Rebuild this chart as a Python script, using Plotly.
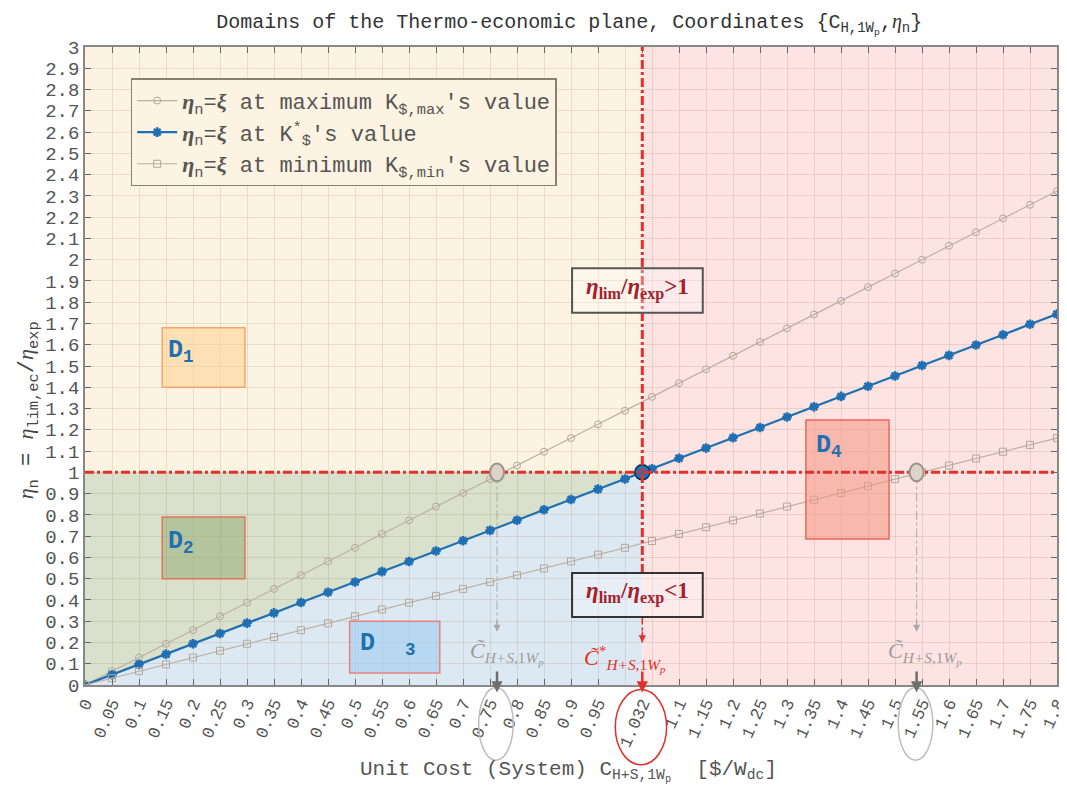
import plotly.graph_objects as go

# ---------------- data ----------------
x_cost = [0, 0.05, 0.1, 0.15, 0.2, 0.25, 0.3, 0.35, 0.4, 0.45, 0.5, 0.55, 0.6, 0.65,
          0.7, 0.75, 0.8, 0.85, 0.9, 0.95, 1.0, 1.05, 1.1, 1.15, 1.2, 1.25, 1.3, 1.35,
          1.4, 1.45, 1.5, 1.55, 1.6, 1.65, 1.7, 1.75, 1.8]
eta_max = [0, 0.065, 0.129, 0.194, 0.258, 0.323, 0.387, 0.452, 0.516, 0.581, 0.645,
           0.710, 0.774, 0.839, 0.903, 0.968, 1.032, 1.097, 1.161, 1.226, 1.290, 1.355,
           1.419, 1.484, 1.548, 1.613, 1.677, 1.742, 1.806, 1.871, 1.935, 2.000, 2.065,
           2.129, 2.194, 2.258, 2.323]
eta_opt = [0, 0.048, 0.097, 0.145, 0.194, 0.242, 0.291, 0.339, 0.388, 0.436, 0.484,
           0.533, 0.581, 0.630, 0.678, 0.727, 0.775, 0.824, 0.872, 0.921, 0.969, 1.017,
           1.066, 1.114, 1.163, 1.211, 1.260, 1.308, 1.357, 1.405, 1.453, 1.502, 1.550,
           1.599, 1.647, 1.696, 1.744]
eta_min = [0, 0.032, 0.065, 0.097, 0.129, 0.161, 0.194, 0.226, 0.258, 0.290, 0.323,
           0.355, 0.387, 0.419, 0.452, 0.484, 0.516, 0.548, 0.581, 0.613, 0.645, 0.677,
           0.710, 0.742, 0.774, 0.806, 0.839, 0.871, 0.903, 0.935, 0.968, 1.000, 1.032,
           1.065, 1.097, 1.129, 1.161]

c_star = 1.032          # optimal unit cost
c_max = 0.763           # crossing of max line with eta=1
c_min = 1.54            # crossing of min line with eta=1
eta_lim = 1.0

x_tickvals = [0, 0.05, 0.1, 0.15, 0.2, 0.25, 0.3, 0.35, 0.4, 0.45, 0.5, 0.55, 0.6, 0.65,
              0.7, 0.75, 0.8, 0.85, 0.9, 0.95, 1.032, 1.1, 1.15, 1.2, 1.25, 1.3, 1.35,
              1.4, 1.45, 1.5, 1.55, 1.6, 1.65, 1.7, 1.75, 1.8]
x_ticktext = ["0", "0.05", "0.1", "0.15", "0.2", "0.25", "0.3", "0.35", "0.4", "0.45",
              "0.5", "0.55", "0.6", "0.65", "0.7", "0.75", "0.8", "0.85", "0.9", "0.95",
              "1.032", "1.1", "1.15", "1.2", "1.25", "1.3", "1.35", "1.4", "1.45", "1.5",
              "1.55", "1.6", "1.65", "1.7", "1.75", "1.8"]
y_tickvals = [i / 10 for i in range(31)]
y_ticktext = ["0", "0.1", "0.2", "0.3", "0.4", "0.5", "0.6", "0.7", "0.8", "0.9", "1",
              "1.1", "1.2", "1.3", "1.4", "1.5", "1.6", "1.7", "1.8", "1.9", "2",
              "2.1", "2.2", "2.3", "2.4", "2.5", "2.6", "2.7", "2.8", "2.9", "3"]

# ---------------- styling ----------------
MONO = "Liberation Mono, Courier New, monospace"
SERIF = "Liberation Serif, Times New Roman, serif"
BLUE = "#1f6fb2"
RED = "#e3302b"
DARKRED = "#a3202e"
GRAYLINE = "#bdb1a6"
ETA = "<span style=\"font-family:'Liberation Serif';font-style:italic\">η</span>"
ETAB = "<span style=\"font-family:'Liberation Serif';font-style:italic;font-weight:bold\">η</span>"
XI = "<span style=\"font-family:'Liberation Serif';font-style:italic;font-weight:bold\">ξ</span>"

fig = go.Figure()

fig.add_trace(go.Scatter(
    x=x_cost, y=eta_max, mode="lines+markers",
    name=f"{ETAB}<sub>n</sub>={XI} at maximum K<sub>$,max</sub>'s value",
    line=dict(color=GRAYLINE, width=1.2),
    marker=dict(symbol="circle-open", size=7, color="#b3a79c", line=dict(width=1))))
fig.add_trace(go.Scatter(
    x=x_cost, y=eta_opt, mode="lines+markers",
    name=f"{ETAB}<sub>n</sub>={XI} at K<sup>*</sup><sub>$</sub>'s value",
    line=dict(color=BLUE, width=2.2),
    marker=dict(symbol="asterisk-open", size=8, color=BLUE, line=dict(width=2.5, color=BLUE))))
fig.add_trace(go.Scatter(
    x=x_cost, y=eta_min, mode="lines+markers",
    name=f"{ETAB}<sub>n</sub>={XI} at minimum K<sub>$,min</sub>'s value",
    line=dict(color=GRAYLINE, width=1.2),
    marker=dict(symbol="square-open", size=7, color="#b3a79c", line=dict(width=1))))

# optimal point
fig.add_trace(go.Scatter(
    x=[c_star], y=[eta_lim], mode="markers", showlegend=False,
    marker=dict(symbol="circle", size=15, color="#1a74bd", line=dict(color="#0d2c47", width=1.5))))

shapes = []
# domain backgrounds
shapes.append(dict(type="rect", xref="x", yref="y", x0=0, x1=c_star, y0=eta_lim, y1=3,
                   fillcolor="#fdf3e2", line=dict(width=0), layer="below"))
shapes.append(dict(type="path", xref="x", yref="y",
                   path=f"M 0 0 L {c_star} {eta_lim} L 0 {eta_lim} Z",
                   fillcolor="#d9e0cc", line=dict(width=0), layer="below"))
shapes.append(dict(type="path", xref="x", yref="y",
                   path=f"M 0 0 L {c_star} 0 L {c_star} {eta_lim} Z",
                   fillcolor="#dde9f2", line=dict(width=0), layer="below"))
shapes.append(dict(type="rect", xref="x", yref="y", x0=c_star, x1=1.8, y0=0, y1=3,
                   fillcolor="#fde3e2", line=dict(width=0), layer="below"))

# D boxes
shapes.append(dict(type="rect", xref="x", yref="y", x0=0.143, x1=0.296, y0=1.40, y1=1.68,
                   fillcolor="rgba(253,208,140,0.55)", line=dict(color="#f3a56a", width=1.5)))
shapes.append(dict(type="rect", xref="x", yref="y", x0=0.143, x1=0.296, y0=0.50, y1=0.79,
                   fillcolor="rgba(150,175,120,0.55)", line=dict(color="#e0735a", width=1.5)))
shapes.append(dict(type="rect", xref="x", yref="y", x0=0.49, x1=0.657, y0=0.056, y1=0.30,
                   fillcolor="rgba(160,205,240,0.6)", line=dict(color="#e8807a", width=1.5)))
shapes.append(dict(type="rect", xref="x", yref="y", x0=1.335, x1=1.489, y0=0.686, y1=1.246,
                   fillcolor="rgba(245,150,130,0.55)", line=dict(color="#f0665a", width=1.5)))

# limit lines
shapes.append(dict(type="line", xref="x", yref="y", x0=0, x1=1.8, y0=eta_lim, y1=eta_lim,
                   line=dict(color=RED, width=3, dash="dashdot")))
shapes.append(dict(type="line", xref="x", yref="y", x0=c_star, x1=c_star, y0=0.527, y1=3,
                   line=dict(color=RED, width=3, dash="dashdot")))
shapes.append(dict(type="line", xref="x", yref="y", x0=c_star, x1=c_star, y0=0.20, y1=0.32,
                   line=dict(color=RED, width=1.5, dash="dashdot")))

# eta_lim / eta_exp boxes
shapes.append(dict(type="rect", xref="x", yref="y", x0=0.902, x1=1.144, y0=1.75, y1=1.96,
                   fillcolor="rgba(255,255,255,0.3)", line=dict(color="#555555", width=2)))
shapes.append(dict(type="rect", xref="x", yref="y", x0=0.902, x1=1.144, y0=0.32, y1=0.527,
                   fillcolor="rgba(255,255,255,0.3)", line=dict(color="#333333", width=2)))

# gray dashed drop lines
for cx in (c_max, c_min):
    shapes.append(dict(type="line", xref="x", yref="y", x0=cx, x1=cx, y0=0.27, y1=0.96,
                       line=dict(color="#a8a8a8", width=1, dash="dashdot")))
    shapes.append(dict(type="circle", xref="x", yref="y", x0=cx - 0.013, x1=cx + 0.013,
                       y0=eta_lim - 0.042, y1=eta_lim + 0.042,
                       fillcolor="#dcd3cb", line=dict(color="#9c938b", width=2)))

# ellipses around tick labels
for cx in (c_max, c_min):
    shapes.append(dict(type="circle", xref="x", yref="paper", x0=cx - 0.034, x1=cx + 0.03,
                       y0=-0.118, y1=-0.004, line=dict(color="#bdbdbd", width=1.5)))
shapes.append(dict(type="circle", xref="x", yref="paper", x0=c_star - 0.05, x1=c_star + 0.045,
                   y0=-0.125, y1=-0.007, line=dict(color=RED, width=1.5)))

annotations = []

def dlabel(x, y, n, gap=""):
    annotations.append(dict(x=x, y=y, xref="x", yref="y", showarrow=False, xanchor="left",
                            yanchor="middle",
                            text=f"<b>D{gap}<sub>{n}</sub></b>",
                            font=dict(family=MONO, size=25, color=BLUE)))

dlabel(0.15, 1.57, 1)
dlabel(0.15, 0.67, 2)
dlabel(0.505, 0.19, 3, gap="  ")
dlabel(1.35, 1.12, 4)

ratio = ("<b>" + ETA + "<sub>lim</sub>/" + ETA + "<sub>exp</sub>{}</b>")
annotations.append(dict(x=1.023, y=1.865, xref="x", yref="y", showarrow=False,
                        text=ratio.format("&gt;1"), font=dict(family=SERIF, size=23, color=DARKRED)))
annotations.append(dict(x=1.023, y=0.435, xref="x", yref="y", showarrow=False,
                        text=ratio.format("&lt;1"), font=dict(family=SERIF, size=23, color=DARKRED)))

ctil = "<i>C\u0303</i>"
csub = "<sub><i>H+S,</i>1<i>W<sub>p</sub></i></sub>"
annotations.append(dict(x=0.782, y=0.15, xref="x", yref="y", showarrow=False,
                        text=ctil + csub, font=dict(family=SERIF, size=22, color="#9c9c9c")))
annotations.append(dict(x=1.555, y=0.15, xref="x", yref="y", showarrow=False,
                        text=ctil + csub, font=dict(family=SERIF, size=22, color="#9c9c9c")))
annotations.append(dict(x=1.0, y=0.125, xref="x", yref="y", showarrow=False,
                        text=ctil + "<sup>*</sup>" + csub, font=dict(family=SERIF, size=22, color=RED)))

# arrow heads of the dashed drop lines
for cx, col in ((c_max, "#a8a8a8"), (c_min, "#a8a8a8"), (c_star, RED)):
    annotations.append(dict(x=cx, y=0.20 if cx == c_star else 0.25, ax=cx,
                            ay=0.26 if cx == c_star else 0.31,
                            xref="x", yref="y", axref="x", ayref="y", text="",
                            showarrow=True, arrowhead=2, arrowsize=1.2, arrowwidth=1.2,
                            arrowcolor=col))
# short arrows into the axis
for cx, col in ((c_max, "#6e6e6e"), (c_min, "#6e6e6e"), (c_star, RED)):
    annotations.append(dict(x=cx, y=-0.035, ax=cx, ay=0.07,
                            xref="x", yref="y", axref="x", ayref="y", text="",
                            showarrow=True, arrowhead=2, arrowsize=0.9, arrowwidth=2.5,
                            arrowcolor=col))

# axis titles
annotations.append(dict(x=0.497, y=-0.135, xref="paper", yref="paper", showarrow=False,
                        xanchor="center", yanchor="middle",
                        text="Unit Cost (System) C<sub>H+S,1W<sub>p</sub></sub>  [$/W<sub>dc</sub>]",
                        font=dict(family=MONO, size=21, color="#555555")))
annotations.append(dict(x=-0.059, y=0.43, xref="paper", yref="paper", showarrow=False,
                        xanchor="center", yanchor="middle", textangle=-90,
                        text=(ETA + "<sub>n</sub> = " + ETA + "<sub>lim,ec</sub>/" + ETA + "<sub>exp</sub>"),
                        font=dict(family=MONO, size=22, color="#444444")))

# the page body adds an 8 px offset, so the figure is 8 px smaller on each axis
fig.update_layout(
    width=1059, height=784,
    margin=dict(l=77, r=10, t=39, b=107),
    paper_bgcolor="white",
    plot_bgcolor="rgba(0,0,0,0)",
    title=dict(text=("Domains of the Thermo-economic plane, Coordinates {C<sub>H,1W<sub>p</sub></sub>,"
                     + ETA + "<sub>n</sub>}"),
               x=0.53, xanchor="center", y=0.992, yanchor="top",
               font=dict(family=MONO, size=20, color="#333333")),
    shapes=shapes,
    annotations=annotations,
    showlegend=True,
    legend=dict(x=0.047, y=0.951, xanchor="left", yanchor="top",
                bgcolor="#fdf3e2", bordercolor="#8a7f72", borderwidth=1.5,
                font=dict(family=MONO, size=22, color="#555555"),
                itemwidth=40, tracegroupgap=4),
    xaxis=dict(range=[0, 1.8], tickmode="array", tickvals=x_tickvals, ticktext=x_ticktext,
               tickangle=-66, ticks="inside", ticklen=6, tickcolor="#666666",
               showgrid=False, zeroline=False, showline=True, linecolor="#888888",
               linewidth=1.5, mirror="ticks", automargin=False, ticklabeloverflow="allow",
               tickfont=dict(family=MONO, size=17, color="#555555"),
               minor=dict(dtick=0.05, tick0=0, showgrid=True,
                          gridcolor="rgba(140,110,80,0.17)", gridwidth=1, ticks="")),
    yaxis=dict(range=[0, 3], tickmode="array", tickvals=y_tickvals, ticktext=y_ticktext,
               ticks="inside", ticklen=6, tickcolor="#666666",
               showgrid=True, gridcolor="rgba(140,110,80,0.17)", gridwidth=1,
               zeroline=False, showline=True, linecolor="#888888", linewidth=1.5,
               mirror="ticks", automargin=False, ticklabeloverflow="allow",
               tickfont=dict(family=MONO, size=19, color="#555555")),
)

fig.write_html("out.html")
